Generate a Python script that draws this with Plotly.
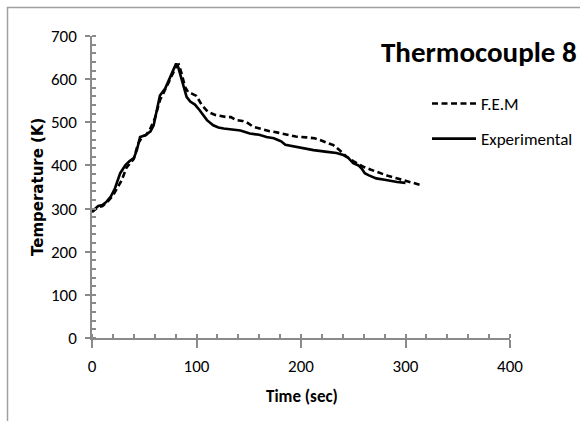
import plotly.graph_objects as go

# ---- data ----
exp_time = [0, 3, 6, 10, 14, 18, 22, 27, 32, 36, 40, 43, 46, 51, 56, 59, 62, 65, 70, 75,
            80.5, 82.5, 86, 90.5, 94, 98.5, 103, 110, 116, 121, 126, 135, 142, 151, 160,
            167, 174, 178.5, 181, 185, 196, 212, 225, 234, 240.5, 245, 250, 255, 258, 261,
            265, 272, 280, 285, 292, 300]
exp_temp = [293, 300, 306, 308, 316, 328, 347, 382, 401, 410, 417, 436, 466, 470, 479, 493,
            532, 562, 578, 605, 636, 628, 597, 559, 548, 541, 528, 505, 493, 488, 485.5, 483,
            481, 474, 471, 466, 463, 458.5, 456, 448, 443, 435.5, 431.5, 429, 424, 418, 405,
            400, 393, 382, 377, 370, 367, 364, 361.5, 359.5]

fem_time = [0, 5, 10, 15, 20, 24, 28.5, 33, 37, 40, 44, 48, 52, 55.5, 60, 65, 71.5, 77, 81,
            83, 85.8, 89, 92, 96, 100, 105, 111, 118, 123, 129, 133, 138, 144, 148, 154, 162,
            170, 178, 186, 195, 205, 213, 218, 224, 231, 237, 243.7, 250, 259.6, 267, 275.6,
            283, 291.6, 300, 308, 315.5]
fem_temp = [292, 302, 306, 316, 330, 347, 366, 395, 407, 415, 450, 466, 471, 484, 508, 551,
            583, 612, 632, 634, 613, 582, 570, 566, 561, 540, 524, 517, 514, 512, 512, 505,
            503, 500, 490, 484, 479.5, 476, 472, 467, 465, 463, 459, 454, 447, 435, 420, 410,
            397, 390, 382, 376, 370, 365, 359, 354]

title_text = "Thermocouple 8"
x_title = "Time (sec)"
y_title = "Temperature (K)"
x_range = [0, 400]
y_range = [0, 700]

# ---- figure ----
W, H = 580, 421
ML, MR, MT, MB = 92, 70, 36, 83
pw, ph = W - ML - MR, H - MT - MB

def px2paper_x(px):
    return (px - ML) / pw

def px2paper_y(py):
    return (H - MB - py) / ph

cal = "Carlito, Liberation Sans Narrow, sans-serif"
axis_col = "#8a8a8a"

fig = go.Figure()
fig.add_trace(go.Scatter(x=fem_time, y=fem_temp, mode="lines", name="F.E.M",
                         legendgroup="a",
                         line=dict(color="black", width=2.6, dash="6px,3.5px")))
fig.add_trace(go.Scatter(x=exp_time, y=exp_temp, mode="lines", name="Experimental",
                         legendgroup="b",
                         line=dict(color="black", width=2.6)))

tickfont = dict(family=cal, size=17, color="black")

fig.update_layout(
    width=W, height=H,
    margin=dict(l=ML, r=MR, t=MT, b=MB, autoexpand=False),
    paper_bgcolor="white", plot_bgcolor="white",
    showlegend=True,
    legend=dict(x=px2paper_x(427), y=px2paper_y(86), xanchor="left", yanchor="top",
                font=dict(family=cal, size=17, color="black"),
                traceorder="grouped", tracegroupgap=10, itemwidth=44,
                bgcolor="rgba(0,0,0,0)"),
    xaxis=dict(range=x_range, dtick=100, tick0=0, showgrid=False, zeroline=False,
               showline=True, linecolor=axis_col, linewidth=1.5,
               ticks="outside", ticklen=8, tickcolor=axis_col, tickwidth=1.5,
               ticklabelstandoff=4, tickfont=tickfont,
               minor=dict(dtick=20, ticks="inside", ticklen=4, tickcolor=axis_col,
                          tickwidth=1.5, showgrid=False)),
    yaxis=dict(range=y_range, dtick=100, tick0=0, showgrid=False, zeroline=False,
               showline=True, linecolor=axis_col, linewidth=1.5,
               ticks="outside", ticklen=5, tickcolor=axis_col, tickwidth=1.5,
               ticklabelstandoff=5, tickfont=tickfont,
               minor=dict(dtick=20, ticks="inside", ticklen=4, tickcolor=axis_col,
                          tickwidth=1.5, showgrid=False)),
    xaxis2=dict(overlaying="x", anchor="y", range=x_range, dtick=100, tick0=0,
                showgrid=False, zeroline=False, showline=False, showticklabels=False,
                ticks="inside", ticklen=4, tickcolor=axis_col, tickwidth=1.5),
    yaxis2=dict(overlaying="y", anchor="x", range=y_range, dtick=100, tick0=0,
                showgrid=False, zeroline=False, showline=False, showticklabels=False,
                ticks="inside", ticklen=4, tickcolor=axis_col, tickwidth=1.5),
)

# outer chart border (partly outside the window, as in the reference)
fig.add_shape(type="rect", xref="paper", yref="paper",
              x0=px2paper_x(7.5), x1=px2paper_x(640),
              y0=px2paper_y(480), y1=px2paper_y(7.5),
              line=dict(color="#a0a0a0", width=1.5), fillcolor="rgba(0,0,0,0)",
              layer="below")

# axis titles and chart title
fig.add_annotation(text=x_title, xref="paper", yref="paper",
                   x=px2paper_x(302), y=px2paper_y(396), xanchor="center", yanchor="middle",
                   showarrow=False,
                   font=dict(family=cal, size=17, color="black", weight="bold"))
fig.add_annotation(text=y_title, xref="paper", yref="paper", textangle=-90,
                   x=px2paper_x(38), y=px2paper_y(187), xanchor="center", yanchor="middle",
                   showarrow=False,
                   font=dict(family="DejaVu Sans, sans-serif", size=15, color="black",
                             weight="bold"))
fig.add_annotation(text=title_text, xref="paper", yref="paper",
                   x=px2paper_x(579), y=px2paper_y(52), xanchor="right", yanchor="middle",
                   showarrow=False,
                   font=dict(family=cal, size=29, color="black", weight="bold"))

fig.write_html("out.html")
